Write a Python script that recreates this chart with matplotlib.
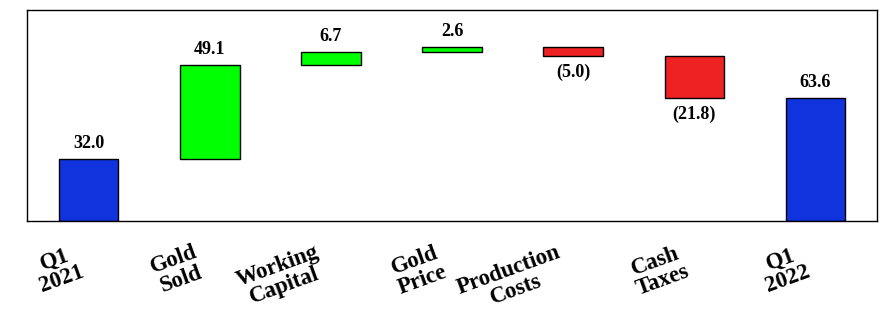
import numpy as np
import matplotlib
matplotlib.use("Agg")
import matplotlib.pyplot as plt

# waterfall data
categories = ["Q1\n2021", "Gold\nSold", "Working\nCapital", "Gold\nPrice",
              "Production\nCosts", "Cash\nTaxes", "Q1\n2022"]
changes = [32.0, 49.1, 6.7, 2.6, -5.0, -21.8, 63.6]
is_total = [True, False, False, False, False, False, True]
value_labels = ["32.0", "49.1", "6.7", "2.6", "(5.0)", "(21.8)", "63.6"]

BLUE = "#1133dd"
GREEN = "#00ff00"
RED = "#ee2222"

plt.rcParams["font.family"] = ["Liberation Serif", "DejaVu Serif"]
plt.rcParams["font.weight"] = "bold"

fig = plt.figure(figsize=(8.94, 3.22), dpi=100)
ax = fig.add_axes([0.0302, 0.3137, 0.9508, 0.6553])

x = np.arange(len(categories))
bottoms = []
heights = []
colors = []
running = 0.0
for val, tot in zip(changes, is_total):
    if tot:
        bottoms.append(0.0)
        heights.append(val)
        colors.append(BLUE)
        running = val
    else:
        if val >= 0:
            bottoms.append(running)
            colors.append(GREEN)
        else:
            bottoms.append(running + val)
            colors.append(RED)
        heights.append(abs(val))
        running += val

ax.bar(x, heights, bottom=bottoms, width=0.49, color=colors,
       edgecolor="black", linewidth=1.0, zorder=2)

for xi, b, h, val, lab in zip(x, bottoms, heights, changes, value_labels):
    if val >= 0:
        ax.annotate(lab, (xi, b + h), xytext=(0, 5), textcoords="offset points",
                    ha="center", va="bottom", fontsize=13, fontweight="bold")
    else:
        ax.annotate(lab, (xi, b), xytext=(0, -5), textcoords="offset points",
                    ha="center", va="top", fontsize=13, fontweight="bold")

# rotated category labels under the axes
for xi, cat in zip(x, categories):
    ax.annotate(cat, (xi, 0), xytext=(-12, -15), textcoords="offset points",
                ha="right", va="top", rotation=20, rotation_mode="anchor",
                multialignment="center", fontsize=16.5, fontweight="bold",
                linespacing=1.0, annotation_clip=False)

ax.set_xlim(-0.51, 6.51)
ax.set_ylim(0, 109.4)
ax.set_xticks([])
ax.set_yticks([])
for s in ax.spines.values():
    s.set_linewidth(1.0)

fig.savefig("out.png", dpi=100)
